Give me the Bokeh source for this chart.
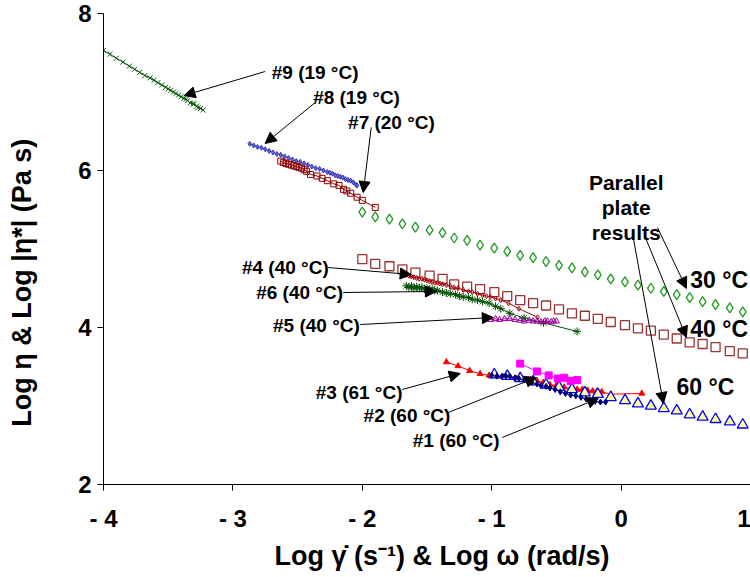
from bokeh.plotting import figure
from bokeh.models import Range1d, FixedTicker, Arrow, NormalHead, Label
from bokeh.embed import file_html
from bokeh.resources import INLINE

FONT = "Liberation Sans"

# ---- steady shear / creep data (log10 shear rate vs log10 viscosity) ----
x9 = [-4.00, -3.95, -3.90, -3.85, -3.80, -3.76, -3.72, -3.68, -3.64, -3.61, -3.58, -3.55,
      -3.52, -3.50, -3.48, -3.46, -3.44, -3.42, -3.40, -3.38, -3.36, -3.35, -3.33, -3.31,
      -3.30, -3.28, -3.27, -3.25, -3.23]
y9 = [7.53, 7.48, 7.43, 7.38, 7.33, 7.29, 7.25, 7.21, 7.18, 7.15, 7.12, 7.09,
      7.06, 7.04, 7.02, 7.00, 6.98, 6.96, 6.94, 6.92, 6.91, 6.89, 6.86, 6.85,
      6.85, 6.82, 6.80, 6.79, 6.77]

x8 = [-2.87, -2.84, -2.81, -2.78, -2.75, -2.72, -2.69, -2.66, -2.63, -2.60, -2.57, -2.54,
      -2.51, -2.48, -2.45, -2.42, -2.39, -2.36, -2.33, -2.30, -2.27, -2.25, -2.23, -2.21,
      -2.19, -2.17, -2.15, -2.13, -2.11, -2.09, -2.07, -2.05, -2.04]
y8 = [6.34, 6.32, 6.30, 6.29, 6.27, 6.25, 6.23, 6.21, 6.20, 6.18, 6.16, 6.14,
      6.12, 6.11, 6.09, 6.07, 6.05, 6.03, 6.02, 6.00, 5.98, 5.97, 5.96, 5.94,
      5.93, 5.92, 5.91, 5.89, 5.88, 5.87, 5.85, 5.82, 5.81]

x7 = [-2.63, -2.61, -2.59, -2.57, -2.55, -2.53, -2.51, -2.49, -2.47, -2.45, -2.43, -2.40,
      -2.35, -2.31, -2.27, -2.22, -2.18, -2.145, -2.12, -2.09, -2.04, -2.00, -1.90]
y7 = [6.12, 6.10, 6.09, 6.08, 6.07, 6.06, 6.05, 6.04, 6.03, 6.01, 5.99, 5.95,
      5.93, 5.90, 5.87, 5.83, 5.81, 5.76, 5.74, 5.71, 5.66, 5.62, 5.53]

x4 = [-1.66, -1.64, -1.62, -1.60, -1.58, -1.56, -1.54, -1.52, -1.50, -1.48, -1.46, -1.44,
      -1.42, -1.40, -1.38, -1.35, -1.32, -1.29, -1.26, -1.22, -1.18, -1.15, -1.11, -1.07,
      -1.04, -1.01, -0.97, -0.93, -0.87, -0.79, -0.645]
y4 = [4.67, 4.66, 4.65, 4.64, 4.63, 4.62, 4.62, 4.61, 4.60, 4.59, 4.58, 4.57,
      4.57, 4.56, 4.55, 4.54, 4.53, 4.51, 4.50, 4.48, 4.46, 4.45, 4.43, 4.41,
      4.40, 4.39, 4.37, 4.35, 4.31, 4.24, 4.13]

x6 = [-1.66, -1.64, -1.62, -1.60, -1.58, -1.56, -1.54, -1.52, -1.50, -1.48, -1.46, -1.44,
      -1.42, -1.38, -1.35, -1.32, -1.28, -1.25, -1.22, -1.18, -1.15, -1.11, -1.07, -1.02,
      -0.97, -0.93, -0.86, -0.75, -0.60, -0.34]
y6 = [4.53, 4.51, 4.53, 4.50, 4.52, 4.50, 4.51, 4.49, 4.50, 4.48, 4.49, 4.47,
      4.47, 4.45, 4.44, 4.43, 4.42, 4.40, 4.39, 4.38, 4.36, 4.35, 4.33, 4.31,
      4.27, 4.24, 4.18, 4.12, 4.06, 3.95]

x5 = [-1.01, -0.97, -0.94, -0.90, -0.86, -0.82, -0.78, -0.75, -0.71, -0.68, -0.65, -0.62,
      -0.59, -0.57, -0.54, -0.52, -0.50]
y5 = [4.10, 4.11, 4.10, 4.11, 4.11, 4.10, 4.09, 4.08, 4.09, 4.08, 4.08, 4.07,
      4.08, 4.08, 4.07, 4.08, 4.08]

x3 = [-1.35, -1.26, -1.17, -1.09, -1.02, -0.96, -0.91, -0.86, -0.81, -0.75, -0.70, -0.65,
      -0.60, -0.55, -0.50, -0.44, -0.39, -0.34, -0.30, -0.26, -0.22, -0.19, -0.15, -0.08, 0.16]
y3 = [3.56, 3.51, 3.45, 3.41, 3.39, 3.38, 3.37, 3.36, 3.35, 3.34, 3.33, 3.32,
      3.30, 3.27, 3.26, 3.24, 3.22, 3.21, 3.21, 3.20, 3.19, 3.18, 3.18, 3.15, 3.16]

x2 = [-0.78, -0.65, -0.56, -0.49, -0.44, -0.39, -0.34]
y2 = [3.54, 3.44, 3.39, 3.35, 3.36, 3.32, 3.33]

x1 = [-1.00, -0.96, -0.92, -0.89, -0.86, -0.82, -0.79, -0.75, -0.72, -0.69, -0.65, -0.62,
      -0.58, -0.55, -0.51, -0.47, -0.43, -0.39, -0.35, -0.31, -0.27, -0.24, -0.20, -0.16, -0.12]
y1 = [3.39, 3.38, 3.38, 3.38, 3.38, 3.36, 3.35, 3.33, 3.31, 3.30, 3.28, 3.26,
      3.25, 3.23, 3.21, 3.18, 3.16, 3.14, 3.13, 3.11, 3.09, 3.07, 3.06, 3.05, 3.05]

# ---- parallel plate (oscillatory) results: log10 omega vs log10 |eta*| ----
x_pp = [-2.00, -1.90, -1.79, -1.69, -1.59, -1.48, -1.38, -1.29, -1.19, -1.09, -0.98, -0.88,
        -0.78, -0.68, -0.58, -0.48, -0.38, -0.28, -0.18, -0.08, 0.03, 0.13, 0.23, 0.33,
        0.43, 0.53, 0.63, 0.73, 0.84, 0.94]
y30 = [5.47, 5.41, 5.38, 5.32, 5.28, 5.24, 5.21, 5.14, 5.11, 5.05, 5.01, 4.97,
       4.92, 4.89, 4.84, 4.79, 4.76, 4.71, 4.67, 4.62, 4.58, 4.54, 4.50, 4.46,
       4.42, 4.38, 4.33, 4.29, 4.25, 4.20]
y40 = [4.87, 4.81, 4.78, 4.74, 4.70, 4.66, 4.62, 4.55, 4.52, 4.49, 4.45, 4.40,
       4.35, 4.31, 4.28, 4.23, 4.18, 4.15, 4.11, 4.07, 4.03, 3.99, 3.96, 3.91,
       3.86, 3.81, 3.79, 3.75, 3.70, 3.67]
x60 = [-0.98, -0.88, -0.78, -0.68, -0.58, -0.48, -0.38, -0.28, -0.18, -0.08, 0.03, 0.13,
       0.23, 0.33, 0.43, 0.53, 0.63, 0.73, 0.84, 0.94]
y60 = [3.40, 3.38, 3.35, 3.31, 3.27, 3.24, 3.21, 3.17, 3.15, 3.11, 3.07, 3.03,
       3.00, 2.97, 2.94, 2.89, 2.86, 2.83, 2.80, 2.76]

# ---- axis ticks and titles ----
x_ticks = [-4, -3, -2, -1, 0, 1]
x_tick_labels = ["- 4", "- 3", "- 2", "- 1", "0", "1"]
y_ticks = [2, 4, 6, 8]
x_title = "Log γ̇ (s⁻¹) & Log ω (rad/s)"
y_title = "Log η & Log |η*| (Pa s)"
NBSP = "\u00a0"

# ---- callouts: text, anchor (left edge, middle), arrow start and arrow tip ----
sample_text = ["#9 (19 °C)", "#8 (19 °C)", "#7 (20 °C)", "#4 (40 °C)", "#6 (40 °C)",
               "#5 (40 °C)", "#3 (61 °C)", "#2 (60 °C)", "#1 (60 °C)"]
sample_tx = [-2.70, -2.38, -2.11, -2.93, -2.82, -2.69, -2.36, -1.99, -1.61]
sample_ty = [7.248, 6.930, 6.611, 4.764, 4.446, 4.025, 3.172, 2.879, 2.561]
arrow_x0 = [-2.751, -2.364, -1.931, -2.264, -2.148, -2.016, -1.691, -1.336, -0.918]
arrow_y0 = [7.261, 6.866, 6.548, 4.764, 4.446, 4.038, 3.210, 2.917, 2.599]
arrow_x1 = [-3.377, -2.751, -1.993, -1.622, -1.428, -0.988, -1.243, -0.655, -0.176]
arrow_y1 = [6.955, 6.344, 5.720, 4.675, 4.459, 4.127, 3.414, 3.363, 3.096]

pp_lines = ["Parallel", "plate", "results"]
pp_lx = 0.04
pp_ly = [5.847, 5.529, 5.210]
temp_text = ["30 °C", "40 °C", "60 °C"]
temp_tx = [0.535, 0.535, 0.428]
temp_ty = [4.599, 3.987, 3.236]
pp_x0 = [0.281, 0.188, 0.095]
pp_y0 = [5.274, 5.146, 5.134]
pp_x1 = [0.505, 0.505, 0.327]
pp_y1 = [4.497, 3.873, 3.032]

p = figure(width=750, height=577, x_range=Range1d(-4, 1), y_range=Range1d(2, 8),
           output_backend="svg", toolbar_location=None,
           min_border_left=103, min_border_right=0, min_border_top=13, min_border_bottom=93)
p.outline_line_color = None
p.xgrid.visible = False
p.ygrid.visible = False
p.background_fill_color = "white"
p.border_fill_color = "white"

for ax in (p.xaxis[0], p.yaxis[0]):
    ax.axis_line_color = "black"
    ax.major_tick_line_color = "black"
    ax.major_tick_out = 6
    ax.major_tick_in = 0
    ax.minor_tick_line_color = None
    ax.major_label_text_font = FONT
    ax.major_label_text_font_style = "bold"
    ax.major_label_text_font_size = "24px"
    ax.major_label_text_color = "black"
    ax.axis_label_text_font = FONT
    ax.axis_label_text_font_style = "bold"
    ax.axis_label_text_font_size = "27px"
    ax.axis_label_text_color = "black"

p.xaxis.ticker = FixedTicker(ticks=x_ticks)
p.xaxis.major_label_overrides = {t: s for t, s in zip(x_ticks, x_tick_labels)}
p.xaxis.major_label_standoff = 14
# title sits a little right of the frame centre: lead with no-break spaces
p.xaxis.axis_label = NBSP * 4 + x_title
p.xaxis.axis_label_standoff = 6
p.yaxis.ticker = FixedTicker(ticks=y_ticks)
p.yaxis.major_label_standoff = 6
# title sits lower than the frame centre: pad its far end with no-break spaces
p.yaxis.axis_label = y_title + NBSP * 9
p.yaxis.axis_label_standoff = 38

# steady-shear series (lines with markers)
p.line(x9, y9, line_color="#005a00", line_width=1)
p.scatter(x9, y9, marker="x", size=7, line_color="#005a00")
p.line(x8, y8, line_color="#3333b3", line_width=1)
p.scatter(x8, y8, marker="diamond", size=5, line_color="#3333b3", fill_color="#6a6ad0")
p.line(x7, y7, line_color="#8b0000", line_width=1)
p.scatter(x7, y7, marker="square", size=6, line_color="#8b0000", fill_color=None)

# parallel plate series (markers only)
p.scatter(x_pp, y30, marker="diamond", size=10, line_color="#1f9a1f", fill_color=None, line_width=1.3)
p.scatter(x_pp, y40, marker="square", size=9, line_color="#993333", fill_color=None, line_width=1.3)

p.line(x4, y4, line_color="#a00000", line_width=1)
p.scatter(x4, y4, marker="diamond", size=5, line_color="#a00000", fill_color=None)
p.line(x6, y6, line_color="#005000", line_width=1)
p.scatter(x6, y6, marker="asterisk", size=8, line_color="#005000")
p.line(x5, y5, line_color="#990099", line_width=1)
p.scatter(x5, y5, marker="triangle", size=6, line_color="#990099", fill_color=None)

p.line(x3, y3, line_color="#ff0000", line_width=1)
p.scatter(x3, y3, marker="triangle", size=6, line_color="#ff0000", fill_color="#ff0000")
p.scatter(x60, y60, marker="triangle", size=11, line_color="#0000ff",
          fill_color="#ffff99", line_width=1.3)
p.line(x1, y1, line_color="#000080", line_width=1)
p.scatter(x1, y1, marker="diamond", size=6, line_color="#000080", fill_color="#000080")
p.line(x2, y2, line_color="#ff00ff", line_width=1)
p.scatter(x2, y2, marker="square", size=7, line_color="#ff00ff", fill_color="#ff00ff")


def callout(x0, y0, x1, y1):
    p.add_layout(Arrow(end=NormalHead(size=11, fill_color="black", line_color="black"),
                       x_start=x0, y_start=y0, x_end=x1, y_end=y1,
                       line_color="black", line_width=1))


def note(text, x, y, size, align="left"):
    p.add_layout(Label(x=x, y=y, text=text, text_font=FONT, text_font_style="bold",
                       text_font_size=size, text_align=align, text_baseline="middle",
                       text_color="black"))


for i in range(len(sample_text)):
    callout(arrow_x0[i], arrow_y0[i], arrow_x1[i], arrow_y1[i])
    note(sample_text[i], sample_tx[i], sample_ty[i], "19px")

for i in range(len(temp_text)):
    callout(pp_x0[i], pp_y0[i], pp_x1[i], pp_y1[i])
    note(temp_text[i], temp_tx[i], temp_ty[i], "23px")

for line, ly in zip(pp_lines, pp_ly):
    note(line, pp_lx, ly, "21px", align="center")

open("out.html", "w").write(file_html(p, INLINE))
